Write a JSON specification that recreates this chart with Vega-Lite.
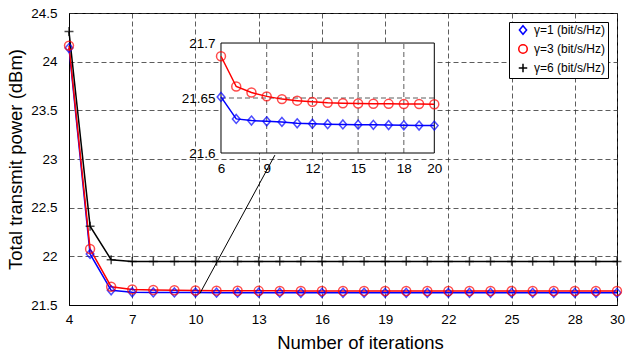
{
  "$schema": "https://vega.github.io/schema/vega-lite/v6.json",
  "width": 548,
  "height": 292,
  "autosize": "none",
  "padding": {"left": 69, "top": 13, "right": 9, "bottom": 55},
  "background": "white",
  "config": {
    "font": "Liberation Sans",
    "view": {"stroke": "#000", "strokeWidth": 1},
    "axis": {
      "labelFont": "Liberation Sans", "labelFontSize": 13.5, "labelColor": "#000",
      "titleFont": "Liberation Sans", "titleFontSize": 18.5, "titleFontWeight": "normal", "titleColor": "#000",
      "domainColor": "#000", "domainWidth": 1,
      "gridColor": "#333", "gridDash": [5, 3], "gridWidth": 0.8,
      "ticks": false, "labelFlush": false, "labelOverlap": false, "labelBound": false
    },
    "legend": {
      "orient": "top-right", "offset": 9, "strokeColor": "#000", "fillColor": "#fff", "padding": 2,
      "labelFont": "Liberation Sans", "labelFontSize": 12, "labelColor": "#000",
      "symbolSize": 72, "symbolStrokeWidth": 1.5, "rowPadding": 3, "labelOffset": 5, "symbolOffset": 6
    }
  },
  "datasets": {
    "main": [
      {"iter": 4, "power": 24.14, "series": "γ=1 (bit/s/Hz)"},
      {"iter": 5, "power": 22.025, "series": "γ=1 (bit/s/Hz)"},
      {"iter": 6, "power": 21.651, "series": "γ=1 (bit/s/Hz)"},
      {"iter": 7, "power": 21.631, "series": "γ=1 (bit/s/Hz)"},
      {"iter": 8, "power": 21.6295, "series": "γ=1 (bit/s/Hz)"},
      {"iter": 9, "power": 21.6288, "series": "γ=1 (bit/s/Hz)"},
      {"iter": 10, "power": 21.6283, "series": "γ=1 (bit/s/Hz)"},
      {"iter": 11, "power": 21.627, "series": "γ=1 (bit/s/Hz)"},
      {"iter": 12, "power": 21.6266, "series": "γ=1 (bit/s/Hz)"},
      {"iter": 13, "power": 21.6262, "series": "γ=1 (bit/s/Hz)"},
      {"iter": 14, "power": 21.626, "series": "γ=1 (bit/s/Hz)"},
      {"iter": 15, "power": 21.6258, "series": "γ=1 (bit/s/Hz)"},
      {"iter": 16, "power": 21.6256, "series": "γ=1 (bit/s/Hz)"},
      {"iter": 17, "power": 21.6254, "series": "γ=1 (bit/s/Hz)"},
      {"iter": 18, "power": 21.6252, "series": "γ=1 (bit/s/Hz)"},
      {"iter": 19, "power": 21.625, "series": "γ=1 (bit/s/Hz)"},
      {"iter": 20, "power": 21.6249, "series": "γ=1 (bit/s/Hz)"},
      {"iter": 21, "power": 21.6248, "series": "γ=1 (bit/s/Hz)"},
      {"iter": 22, "power": 21.6248, "series": "γ=1 (bit/s/Hz)"},
      {"iter": 23, "power": 21.6248, "series": "γ=1 (bit/s/Hz)"},
      {"iter": 24, "power": 21.6248, "series": "γ=1 (bit/s/Hz)"},
      {"iter": 25, "power": 21.6248, "series": "γ=1 (bit/s/Hz)"},
      {"iter": 26, "power": 21.6248, "series": "γ=1 (bit/s/Hz)"},
      {"iter": 27, "power": 21.6248, "series": "γ=1 (bit/s/Hz)"},
      {"iter": 28, "power": 21.6248, "series": "γ=1 (bit/s/Hz)"},
      {"iter": 29, "power": 21.6248, "series": "γ=1 (bit/s/Hz)"},
      {"iter": 30, "power": 21.6248, "series": "γ=1 (bit/s/Hz)"},
      {"iter": 4, "power": 24.165, "series": "γ=3 (bit/s/Hz)"},
      {"iter": 5, "power": 22.075, "series": "γ=3 (bit/s/Hz)"},
      {"iter": 6, "power": 21.688, "series": "γ=3 (bit/s/Hz)"},
      {"iter": 7, "power": 21.6605, "series": "γ=3 (bit/s/Hz)"},
      {"iter": 8, "power": 21.655, "series": "γ=3 (bit/s/Hz)"},
      {"iter": 9, "power": 21.6515, "series": "γ=3 (bit/s/Hz)"},
      {"iter": 10, "power": 21.649, "series": "γ=3 (bit/s/Hz)"},
      {"iter": 11, "power": 21.6476, "series": "γ=3 (bit/s/Hz)"},
      {"iter": 12, "power": 21.6465, "series": "γ=3 (bit/s/Hz)"},
      {"iter": 13, "power": 21.6457, "series": "γ=3 (bit/s/Hz)"},
      {"iter": 14, "power": 21.6453, "series": "γ=3 (bit/s/Hz)"},
      {"iter": 15, "power": 21.645, "series": "γ=3 (bit/s/Hz)"},
      {"iter": 16, "power": 21.6448, "series": "γ=3 (bit/s/Hz)"},
      {"iter": 17, "power": 21.6447, "series": "γ=3 (bit/s/Hz)"},
      {"iter": 18, "power": 21.6446, "series": "γ=3 (bit/s/Hz)"},
      {"iter": 19, "power": 21.6445, "series": "γ=3 (bit/s/Hz)"},
      {"iter": 20, "power": 21.6443, "series": "γ=3 (bit/s/Hz)"},
      {"iter": 21, "power": 21.6442, "series": "γ=3 (bit/s/Hz)"},
      {"iter": 22, "power": 21.6442, "series": "γ=3 (bit/s/Hz)"},
      {"iter": 23, "power": 21.6442, "series": "γ=3 (bit/s/Hz)"},
      {"iter": 24, "power": 21.6442, "series": "γ=3 (bit/s/Hz)"},
      {"iter": 25, "power": 21.6442, "series": "γ=3 (bit/s/Hz)"},
      {"iter": 26, "power": 21.6442, "series": "γ=3 (bit/s/Hz)"},
      {"iter": 27, "power": 21.6442, "series": "γ=3 (bit/s/Hz)"},
      {"iter": 28, "power": 21.6442, "series": "γ=3 (bit/s/Hz)"},
      {"iter": 29, "power": 21.6442, "series": "γ=3 (bit/s/Hz)"},
      {"iter": 30, "power": 21.6442, "series": "γ=3 (bit/s/Hz)"},
      {"iter": 4, "power": 24.31, "series": "γ=6 (bit/s/Hz)"},
      {"iter": 5, "power": 22.31, "series": "γ=6 (bit/s/Hz)"},
      {"iter": 6, "power": 21.965, "series": "γ=6 (bit/s/Hz)"},
      {"iter": 7, "power": 21.948, "series": "γ=6 (bit/s/Hz)"},
      {"iter": 8, "power": 21.948, "series": "γ=6 (bit/s/Hz)"},
      {"iter": 9, "power": 21.948, "series": "γ=6 (bit/s/Hz)"},
      {"iter": 10, "power": 21.948, "series": "γ=6 (bit/s/Hz)"},
      {"iter": 11, "power": 21.948, "series": "γ=6 (bit/s/Hz)"},
      {"iter": 12, "power": 21.948, "series": "γ=6 (bit/s/Hz)"},
      {"iter": 13, "power": 21.948, "series": "γ=6 (bit/s/Hz)"},
      {"iter": 14, "power": 21.948, "series": "γ=6 (bit/s/Hz)"},
      {"iter": 15, "power": 21.948, "series": "γ=6 (bit/s/Hz)"},
      {"iter": 16, "power": 21.948, "series": "γ=6 (bit/s/Hz)"},
      {"iter": 17, "power": 21.948, "series": "γ=6 (bit/s/Hz)"},
      {"iter": 18, "power": 21.948, "series": "γ=6 (bit/s/Hz)"},
      {"iter": 19, "power": 21.948, "series": "γ=6 (bit/s/Hz)"},
      {"iter": 20, "power": 21.948, "series": "γ=6 (bit/s/Hz)"},
      {"iter": 21, "power": 21.948, "series": "γ=6 (bit/s/Hz)"},
      {"iter": 22, "power": 21.948, "series": "γ=6 (bit/s/Hz)"},
      {"iter": 23, "power": 21.948, "series": "γ=6 (bit/s/Hz)"},
      {"iter": 24, "power": 21.948, "series": "γ=6 (bit/s/Hz)"},
      {"iter": 25, "power": 21.948, "series": "γ=6 (bit/s/Hz)"},
      {"iter": 26, "power": 21.948, "series": "γ=6 (bit/s/Hz)"},
      {"iter": 27, "power": 21.948, "series": "γ=6 (bit/s/Hz)"},
      {"iter": 28, "power": 21.948, "series": "γ=6 (bit/s/Hz)"},
      {"iter": 29, "power": 21.948, "series": "γ=6 (bit/s/Hz)"},
      {"iter": 30, "power": 21.948, "series": "γ=6 (bit/s/Hz)"}
    ],
    "connector": [{"x": 10.215, "y": 21.62, "x2": 13.77, "y2": 23.04}],
    "box": [{"x": 6, "x2": 20, "y": 21.6, "y2": 21.7}],
    "igx": [{"v": 9}, {"v": 12}, {"v": 15}, {"v": 18}],
    "igy": [{"v": 21.65}]
  },
  "layer": [
    {
      "layer": [
        {
          "data": {"name": "main"},
          "mark": {"type": "line", "strokeWidth": 1.5},
          "encoding": {
            "x": {"field": "iter", "type": "quantitative",
              "scale": {"domain": [4, 30], "nice": false, "zero": false},
              "axis": {"values": [4, 7, 10, 13, 16, 19, 22, 25, 28, 30], "title": "Number of iterations", "labelPadding": 7, "titlePadding": 8, "titleX": 291}},
            "y": {"field": "power", "type": "quantitative",
              "scale": {"domain": [21.5, 24.5], "nice": false, "zero": false},
              "axis": {"values": [21.5, 22, 22.5, 23, 23.5, 24, 24.5], "format": "~g", "title": "Total transmit power (dBm)", "labelPadding": 12, "titlePadding": 5}},
            "color": {"field": "series", "type": "nominal",
              "scale": {"domain": ["γ=1 (bit/s/Hz)", "γ=3 (bit/s/Hz)", "γ=6 (bit/s/Hz)"], "range": ["#0000ff", "#ff0000", "#000000"]},
              "legend": {"title": null,
                "encode": {"symbols": {"update": {"shape": {"signal": "datum.value === 'γ=1 (bit/s/Hz)' ? 'M-2.2,0H2.2M0,-1L0.85,0L0,1L-0.85,0Z' : datum.value === 'γ=3 (bit/s/Hz)' ? 'M-2.2,0H2.2M-1,0A1,1 0 1,0 1,0A1,1 0 1,0 -1,0' : 'M-2.2,0H2.2M0,-1V1'"}, "strokeWidth": {"value": 1.5}, "fill": {"value": "transparent"}}}}}}
          }
        },
        {
          "data": {"name": "main"},
          "mark": {"type": "point", "filled": false, "strokeWidth": 1.5, "size": 80},
          "encoding": {
            "x": {"field": "iter", "type": "quantitative"},
            "y": {"field": "power", "type": "quantitative"},
            "color": {"field": "series", "type": "nominal",
              "legend": {"title": null,
                "encode": {"symbols": {"update": {"shape": {"signal": "datum.value === 'γ=1 (bit/s/Hz)' ? 'M-2.2,0H2.2M0,-1L0.85,0L0,1L-0.85,0Z' : datum.value === 'γ=3 (bit/s/Hz)' ? 'M-2.2,0H2.2M-1,0A1,1 0 1,0 1,0A1,1 0 1,0 -1,0' : 'M-2.2,0H2.2M0,-1V1'"}, "strokeWidth": {"value": 1.5}, "fill": {"value": "transparent"}}}}}},
            "shape": {"field": "series", "type": "nominal",
              "scale": {"domain": ["γ=1 (bit/s/Hz)", "γ=3 (bit/s/Hz)", "γ=6 (bit/s/Hz)"], "range": ["M0,-1L0.85,0L0,1L-0.85,0Z", "circle", "M-1,0H1M0,-1V1"]},
              "legend": {"title": null,
                "encode": {"symbols": {"update": {"shape": {"signal": "datum.value === 'γ=1 (bit/s/Hz)' ? 'M-2.2,0H2.2M0,-1L0.85,0L0,1L-0.85,0Z' : datum.value === 'γ=3 (bit/s/Hz)' ? 'M-2.2,0H2.2M-1,0A1,1 0 1,0 1,0A1,1 0 1,0 -1,0' : 'M-2.2,0H2.2M0,-1V1'"}, "strokeWidth": {"value": 1.5}, "fill": {"value": "transparent"}}}}}}
          }
        },
        {
          "data": {"name": "connector"},
          "mark": {"type": "rule", "color": "#000", "strokeWidth": 1},
          "encoding": {
            "x": {"field": "x", "type": "quantitative"},
            "y": {"field": "y", "type": "quantitative"},
            "x2": {"field": "x2"},
            "y2": {"field": "y2"}
          }
        }
      ]
    },
    {
      "layer": [
        {
          "data": {"name": "box"},
          "mark": {"type": "rect", "fill": "#fff", "stroke": "#000", "strokeWidth": 1},
          "encoding": {
            "x": {"field": "x", "type": "quantitative",
              "scale": {"domain": [-3.975, 31.99], "nice": false, "zero": false},
              "axis": {"orient": "bottom", "offset": -152, "values": [6, 9, 12, 15, 18, 20], "domain": false, "ticks": false, "grid": false, "title": null, "labelPadding": 8}},
            "x2": {"field": "x2"},
            "y": {"field": "y", "type": "quantitative",
              "scale": {"domain": [21.4618, 21.7273], "nice": false, "zero": false},
              "axis": {"orient": "left", "offset": -152, "values": [21.6, 21.65, 21.7], "format": "~g", "domain": false, "ticks": false, "grid": false, "title": null, "labelPadding": 6}},
            "y2": {"field": "y2"}
          }
        },
        {
          "data": {"name": "igx"},
          "mark": {"type": "rule", "color": "#333", "strokeWidth": 0.8, "strokeDash": [5, 3]},
          "encoding": {
            "x": {"field": "v", "type": "quantitative"},
            "y": {"datum": 21.6, "type": "quantitative"},
            "y2": {"datum": 21.7}
          }
        },
        {
          "data": {"name": "igy"},
          "mark": {"type": "rule", "color": "#333", "strokeWidth": 0.8, "strokeDash": [5, 3]},
          "encoding": {
            "y": {"field": "v", "type": "quantitative"},
            "x": {"datum": 6, "type": "quantitative"},
            "x2": {"datum": 20}
          }
        },
        {
          "data": {"name": "main"},
          "transform": [{"filter": "datum.iter >= 6 && datum.iter <= 20 && datum.series !== 'γ=6 (bit/s/Hz)'"}],
          "mark": {"type": "line", "strokeWidth": 1.5},
          "encoding": {
            "x": {"field": "iter", "type": "quantitative"},
            "y": {"field": "power", "type": "quantitative"},
            "color": {"field": "series", "type": "nominal"}
          }
        },
        {
          "data": {"name": "main"},
          "transform": [{"filter": "datum.iter >= 6 && datum.iter <= 20 && datum.series !== 'γ=6 (bit/s/Hz)'"}],
          "mark": {"type": "point", "filled": false, "strokeWidth": 1.5, "size": 80},
          "encoding": {
            "x": {"field": "iter", "type": "quantitative"},
            "y": {"field": "power", "type": "quantitative"},
            "color": {"field": "series", "type": "nominal"},
            "shape": {"field": "series", "type": "nominal"}
          }
        }
      ]
    }
  ],
  "resolve": {"scale": {"x": "independent", "y": "independent"}}
}
